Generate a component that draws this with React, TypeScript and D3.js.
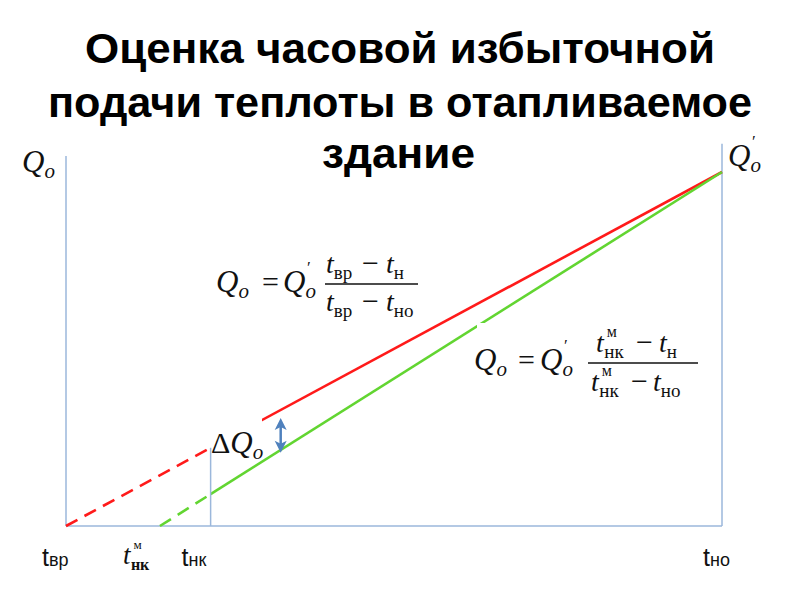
import React from "react";
import * as d3 from "d3";

// ---- data (schematic temperature graph) ----
const titleLines = ["Оценка часовой избыточной", "подачи теплоты в отапливаемое", "здание"];
// temperatures: t_вр, t_нк^м, t_нк, t_но
const tVr = 18;
const tNkM = 11.7;
const tNk = 8.3;
const tNo = -26;
// red line: Q = Q'o (tвр - tн)/(tвр - tно)
const redDashed = [
  { t: 18, q: 0 },
  { t: 8.3, q: 0.221 },
];
const redSolid = [
  { t: 8.3, q: 0.221 },
  { t: -26, q: 1 },
];
// green line: Q = Q'o (tнк^м - tн)/(tнк^м - tно)
const greenDashed = [
  { t: 11.7, q: 0 },
  { t: 8.3, q: 0.09 },
];
const greenSolid = [
  { t: 8.3, q: 0.09 },
  { t: -26, q: 1 },
];
const axisTopLeft = 1.045;
const axisTopRight = 1.08;
const arrowT = 3.6;
const arrowQ = [0.207, 0.305];

const W = 800;
const H = 600;

const serif = "'Liberation Serif', 'DejaVu Serif', serif";
const sans = "'Liberation Sans', Arial, sans-serif";

// Q with subscript o and optional prime, as one text element
function QSym({ x, y, prime }: { x: number; y: number; prime?: boolean }) {
  return (
    <text x={x} y={y} fontFamily={serif} fill="#111">
      <tspan fontSize={31} fontStyle="italic">Q</tspan>
      <tspan fontSize={21} fontStyle="italic" dy={6}>o</tspan>
      {prime ? (
        <tspan fontSize={17} dx={-9} dy={-25}>′</tspan>
      ) : null}
    </text>
  );
}

// t with sub (and optional sup), as one text element
function TSym({
  x,
  y,
  sub,
  sup,
  tSize = 28,
  subSize = 19,
  bold = false,
}: {
  x: number;
  y: number;
  sub: string;
  sup?: string;
  tSize?: number;
  subSize?: number;
  bold?: boolean;
}) {
  return (
    <text x={x} y={y} fontFamily={serif} fill="#111">
      <tspan fontSize={tSize} fontStyle="italic">t</tspan>
      {sup ? (
        <>
          <tspan fontSize={subSize - 3} dx={3} dy={-15}>{sup}</tspan>
          <tspan fontSize={subSize} fontWeight={bold ? "bold" : "normal"} dx={-(subSize - 3) * 0.6 - 3} dy={21}>
            {sub}
          </tspan>
        </>
      ) : (
        <tspan fontSize={subSize} dy={6}>{sub}</tspan>
      )}
    </text>
  );
}

export default function App() {
  const x = d3.scaleLinear().domain([tVr, tNo]).range([66, 722]);
  const y = d3.scaleLinear().domain([0, 1]).range([526, 172]);
  const line = d3
    .line<{ t: number; q: number }>()
    .x((d) => x(d.t))
    .y((d) => y(d.q));

  const axisColor = "#9bb7db";
  const red = "#ff1a1a";
  const green = "#62d531";
  const blue = "#4f81bd";

  const ax = x(arrowT);
  const ay1 = y(arrowQ[0]);
  const ay2 = y(arrowQ[1]);

  return (
    <svg
      width={W}
      height={H}
      style={{ position: "absolute", left: 0, top: 0, background: "#fff" }}
    >
      <rect x={0} y={0} width={W} height={H} fill="#fff" />
      {/* title */}
      <g fontFamily={sans} fontWeight="bold" fontSize={43} fill="#000">
        <text x={85} y={63} textLength={630} lengthAdjust="spacingAndGlyphs">
          {titleLines[0]}
        </text>
        <text x={48} y={117} textLength={704} lengthAdjust="spacingAndGlyphs">
          {titleLines[1]}
        </text>
        <text x={322} y={168} textLength={153} lengthAdjust="spacingAndGlyphs">
          {titleLines[2]}
        </text>
      </g>

      {/* axes */}
      <g stroke={axisColor} strokeWidth={1.5} fill="none">
        <line x1={x(tVr)} x2={x(tVr)} y1={y(axisTopLeft)} y2={y(0)} />
        <line x1={x(tVr)} x2={x(tNo)} y1={y(0)} y2={y(0)} />
        <line x1={x(tNo)} x2={x(tNo)} y1={y(axisTopRight)} y2={y(0)} />
      </g>

      {/* lines */}
      <path d={line(redDashed) || ""} stroke={red} strokeWidth={2.6} fill="none" strokeDasharray="13 8" />
      <path d={line(redSolid) || ""} stroke={red} strokeWidth={2.6} fill="none" />
      <path d={line(greenDashed) || ""} stroke={green} strokeWidth={2.6} fill="none" strokeDasharray="13 8" />
      <path d={line(greenSolid) || ""} stroke={green} strokeWidth={2.6} fill="none" />

      {/* label backgrounds cutting the lines */}
      <rect x={206} y={415} width={56} height={34} fill="#fff" />
      <rect x={477} y={323} width={230} height={80} fill="#fff" />

      {/* t_нк vertical */}
      <line x1={x(tNk)} x2={x(tNk)} y1={y(redDashed[1].q)} y2={y(0)} stroke={axisColor} strokeWidth={1.5} />

      {/* double arrow */}
      <g stroke={blue} fill={blue}>
        <line x1={ax} x2={ax} y1={ay2 + 8} y2={ay1 - 8} strokeWidth={2.5} />
        <path d={`M${ax},${ay2} L${ax - 6},${ay2 + 12} L${ax},${ay2 + 9} L${ax + 6},${ay2 + 12} Z`} stroke="none" />
        <path d={`M${ax},${ay1} L${ax - 6},${ay1 - 12} L${ax},${ay1 - 9} L${ax + 6},${ay1 - 12} Z`} stroke="none" />
      </g>

      {/* ΔQo */}
      <text x={211} y={453} fontFamily={serif} fill="#111">
        <tspan fontSize={30}>Δ</tspan>
        <tspan fontSize={31} fontStyle="italic">Q</tspan>
        <tspan fontSize={21} fontStyle="italic" dy={6}>o</tspan>
      </text>

      {/* axis labels Q */}
      <QSym x={22} y={172} />
      <QSym x={728} y={166} prime />

      {/* formula 1 */}
      <QSym x={216} y={292} />
      <text x={262} y={292} fontSize={30} fontFamily={serif} fill="#111">=</text>
      <QSym x={283} y={292} prime />
      <line x1={325} x2={418} y1={284} y2={284} stroke="#111" strokeWidth={1.4} />
      <TSym x={326} y={273} sub="вр" />
      <text x={362} y={273} fontSize={30} fontFamily={serif} fill="#111">−</text>
      <TSym x={386} y={273} sub="н" />
      <TSym x={326} y={311} sub="вр" />
      <text x={362} y={311} fontSize={30} fontFamily={serif} fill="#111">−</text>
      <TSym x={386} y={311} sub="но" />

      {/* formula 2 */}
      <QSym x={474} y={370} />
      <text x={518} y={370} fontSize={30} fontFamily={serif} fill="#111">=</text>
      <QSym x={540} y={370} prime />
      <line x1={588} x2={698} y1={363} y2={363} stroke="#111" strokeWidth={1.4} />
      <TSym x={596} y={352} sub="нк" sup="м" />
      <text x={636} y={352} fontSize={30} fontFamily={serif} fill="#111">−</text>
      <TSym x={659} y={352} sub="н" />
      <TSym x={591} y={391} sub="нк" sup="м" />
      <text x={631} y={391} fontSize={30} fontFamily={serif} fill="#111">−</text>
      <TSym x={653} y={391} sub="но" />

      {/* bottom labels */}
      <g fontFamily={sans} fill="#111">
        <text x={x(tVr) - 24} y={566}>
          <tspan fontSize={25}>t</tspan>
          <tspan fontSize={18}>вр</tspan>
        </text>
        <text x={x(tNk) - 29} y={566}>
          <tspan fontSize={25}>t</tspan>
          <tspan fontSize={18}>нк</tspan>
        </text>
        <text x={x(tNo) - 19} y={566}>
          <tspan fontSize={25}>t</tspan>
          <tspan fontSize={18}>но</tspan>
        </text>
      </g>
      <TSym x={x(tNkM) - 37} y={564} sub="нк" sup="м" tSize={27} subSize={16} bold />
    </svg>
  );
}
